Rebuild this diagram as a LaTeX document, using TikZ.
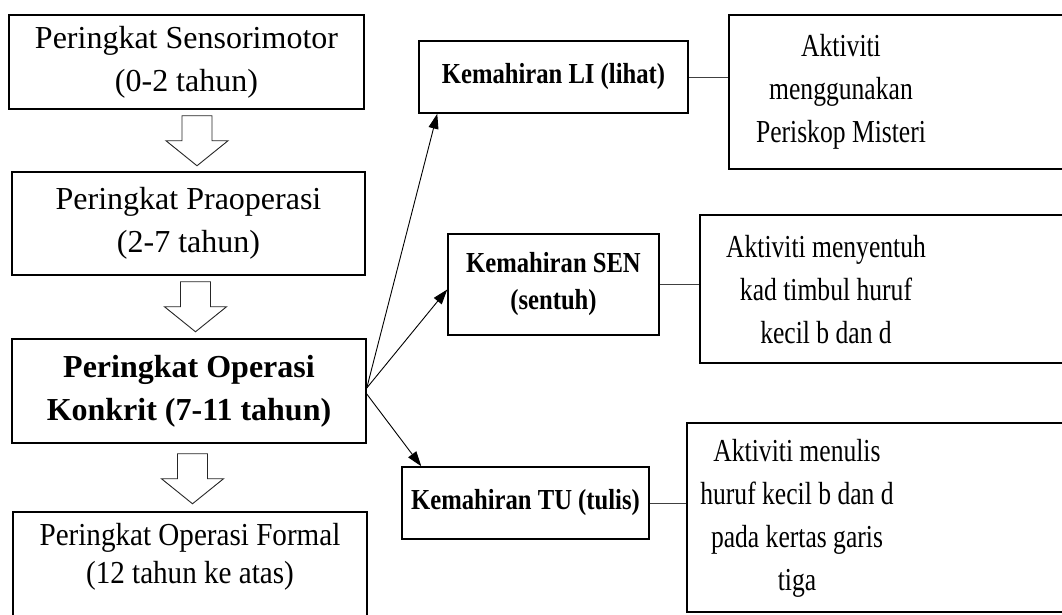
\documentclass[tikz,border=0pt]{standalone}
\usepackage{fontspec}
\setmainfont{Liberation Serif}
\newfontfamily\narrowserif{Liberation Serif}[FakeStretch=0.8]
\newfontfamily\narrowbold{Liberation Serif}[FakeStretch=0.85]
\newfontfamily\formalserif{Liberation Serif}[FakeStretch=0.91]
\usetikzlibrary{arrows.meta,positioning,calc}
\tikzset{
  % 左侧阶段框
  stagebox/.style={
    draw,
    line width=1.5pt,
    align=center,
    inner sep=0pt,
    font=\fontsize{32}{43}\selectfont
  },
  stagebold/.style={stagebox, font=\fontsize{32}{43}\selectfont\bfseries},
  % 技能框
  skillbox/.style={
    draw,
    line width=1.5pt,
    align=center,
    inner sep=0pt,
    font=\narrowbold\fontsize{29}{37}\selectfont\bfseries
  },
  % 活动框与文字
  actframe/.style={draw, line width=1.5pt, inner sep=0pt},
  acttext/.style={align=center, inner sep=0pt, font=\narrowserif\fontsize{32}{43}\selectfont},
  % 箭头样式
  arr/.style={-{Triangle[length=15pt,width=10pt]}, line width=0.9pt},
  link/.style={line width=0.9pt, black!75},
  % 空心向下箭头
  blockdown/.pic={
    \draw[line width=0.9pt, black!85, fill=white]
      (-15,0) -- (15,0) -- (15,25) -- (31,25) -- (0,50) -- (-31,25) -- (-15,25) -- cycle;
  },
}
\begin{document}
\begin{tikzpicture}[x=1pt, y=-1pt]
    \useasboundingbox (0,0) rectangle (1062,614);
    \clip (0,0) rectangle (1062,614);

    % 皮亚杰阶段
    \node[stagebox, minimum width=355pt, minimum height=94pt] (sensori) at (186.5,62)
        {Peringkat Sensorimotor\\(0-2 tahun)};
    \node[stagebox, minimum width=353pt, minimum height=103pt] (praop) at (188.5,223.5)
        {Peringkat Praoperasi\\(2-7 tahun)};
    \node[stagebold, minimum width=354pt, minimum height=104pt] (konkrit) at (189,391)
        {Peringkat Operasi\\Konkrit (7-11 tahun)};
    \node[stagebox, font=\formalserif\fontsize{32}{38}\selectfont, anchor=base, minimum width=354pt,
        inner ysep=11pt, text depth=50pt] (formal) at (190,583)
        {Peringkat Operasi Formal\\(12 tahun ke atas)};

    % 空心箭头
    \pic at ($(sensori.south)+(10.5,6)$) {blockdown};
    \pic at ($(praop.south)+(7,6)$) {blockdown};
    \pic at ($(konkrit.south)+(3.5,10)$) {blockdown};

    % 三种技能
    \node[skillbox, minimum width=269pt, minimum height=72pt] (li) at (553.5,77)
        {Kemahiran LI (lihat)};
    \node[skillbox, minimum width=211pt, minimum height=101pt] (sen) at (553.5,284.5)
        {Kemahiran SEN\\(sentuh)};
    \node[skillbox, minimum width=247pt, minimum height=72pt] (tu) at (525.5,503)
        {Kemahiran TU (tulis)};

    % 活动
    \node[actframe, minimum width=346pt, minimum height=154pt] (periskop) at (902,92) {};
    \node[acttext] (periskoptext) at (841,92)
        {Aktiviti\\menggunakan\\Periskop Misteri};
    \node[actframe, minimum width=375pt, minimum height=148pt] (kad) at (887.5,289) {};
    \node[acttext] (kadtext) at (826,290)
        {Aktiviti menyentuh\\kad timbul huruf\\kecil b dan d};
    \node[actframe, minimum width=388pt, minimum height=189pt] (menulis) at (881,517.5) {};
    \node[acttext] (menulistext) at (797,518)
        {Aktiviti menulis\\huruf kecil b dan d\\pada kertas garis\\tiga};

    % 箭头 - 从具体运算期出发
    \coordinate (kout1) at ($(konkrit.east)+(0,-3)$);
    \coordinate (kout2) at ($(konkrit.east)+(0,3)$);
    \draw[arr] (kout1) -- ($(li.south west)+(19,0)$);
    \draw[arr] (kout1) -- ($(sen.west)+(0,5)$);
    \draw[arr] (kout2) -- ($(tu.north west)+(20,0)$);

    % 连线
    \draw[link] (li.east) -- (li.east -| periskop.west);
    \draw[link] (sen.east) -- (sen.east -| kad.west);
    \draw[link] (tu.east) -- (tu.east -| menulis.west);
\end{tikzpicture}
\end{document}
